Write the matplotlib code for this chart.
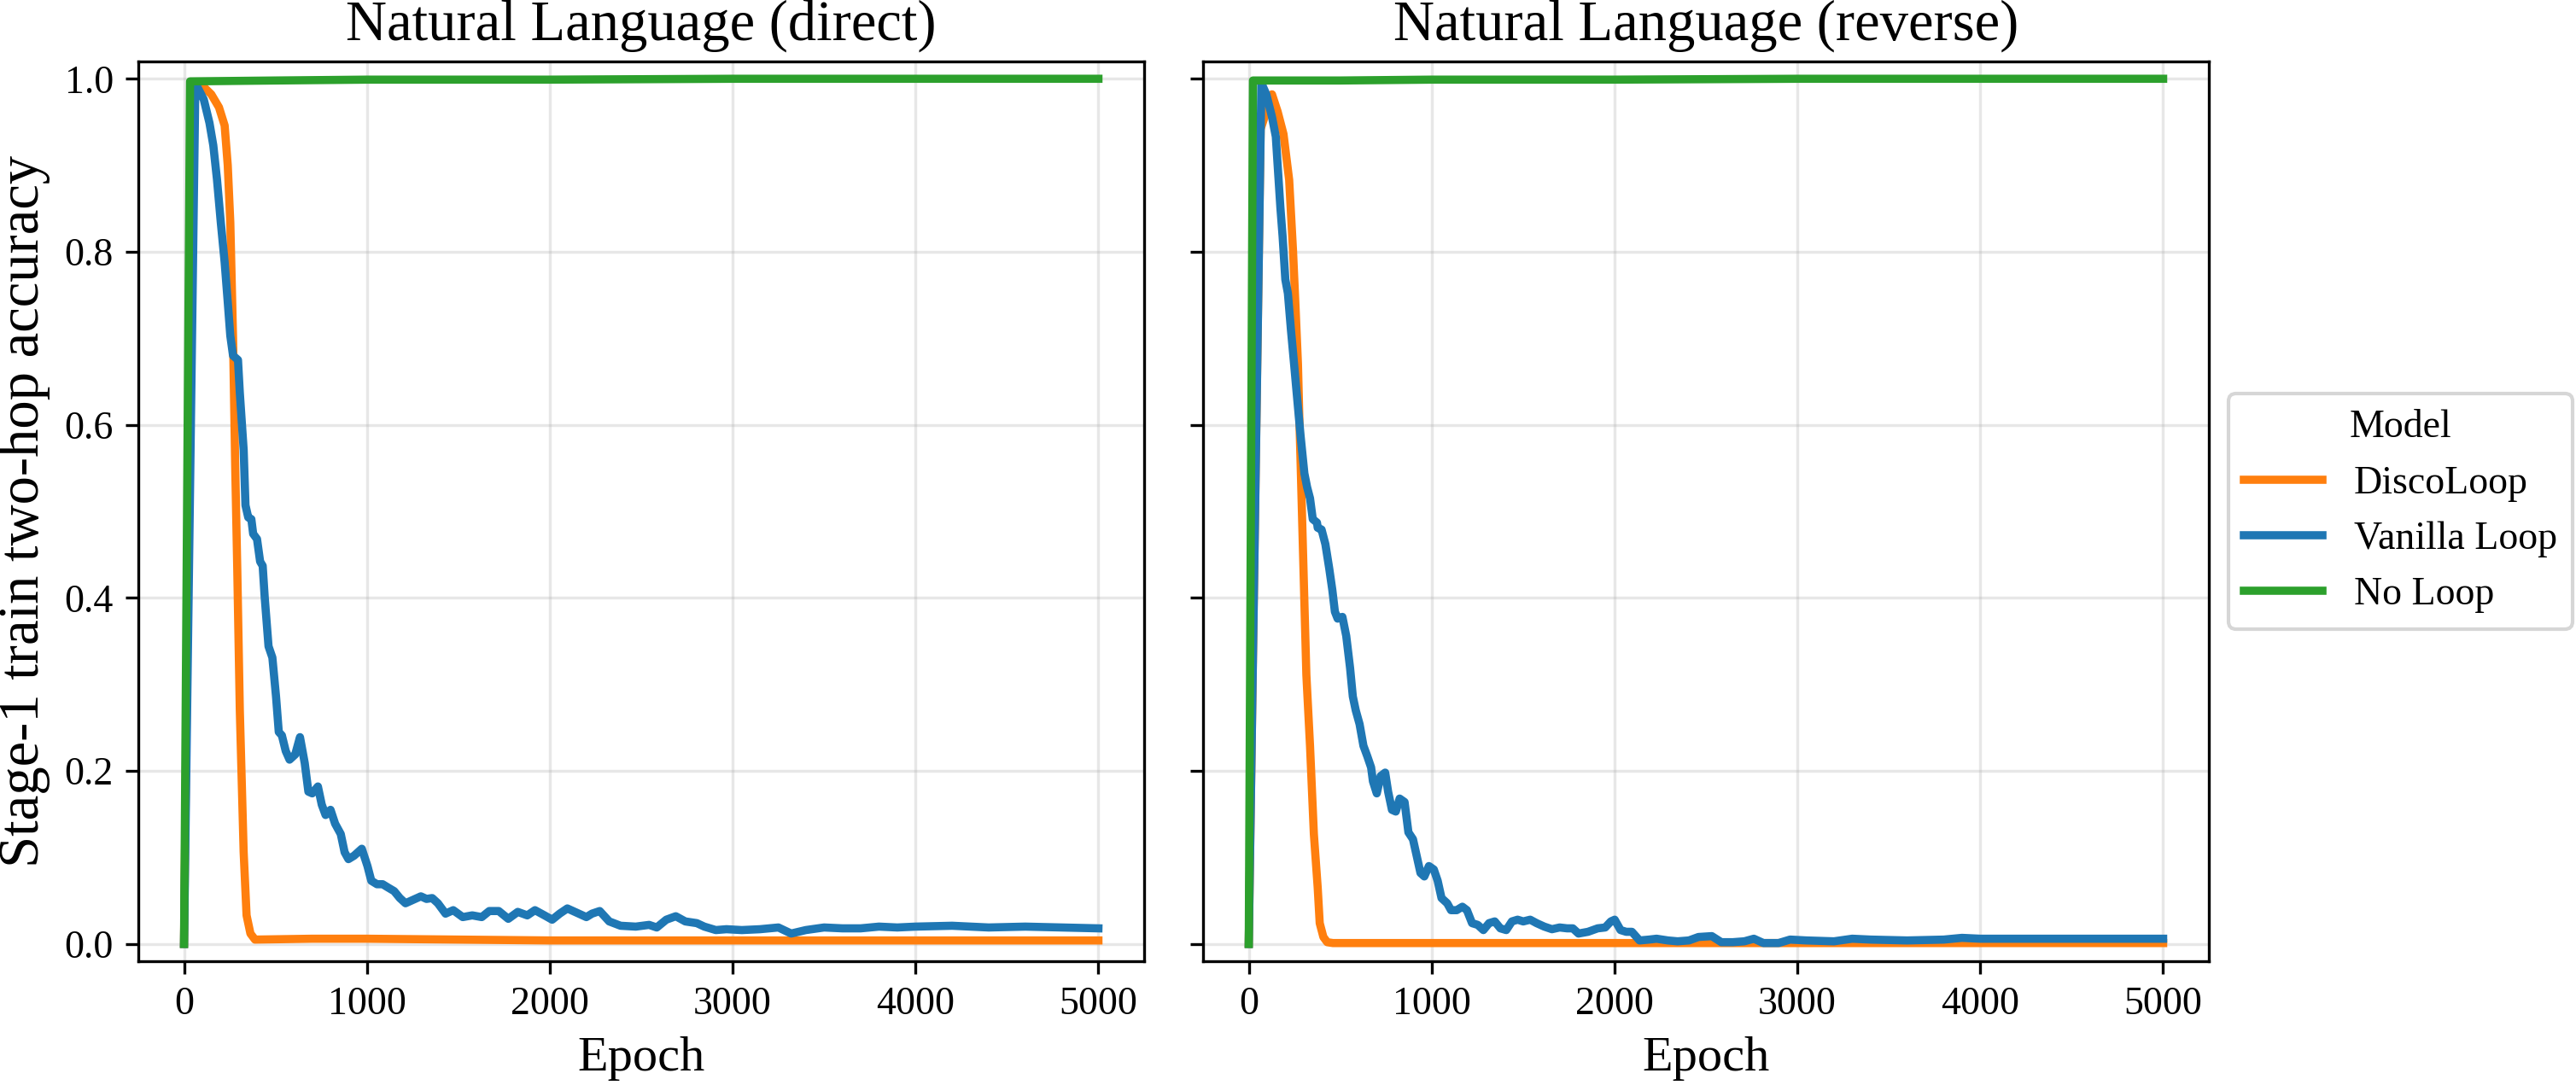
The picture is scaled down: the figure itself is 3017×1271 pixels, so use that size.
import matplotlib
matplotlib.use("Agg")
import matplotlib.pyplot as plt

plt.rcParams['font.family'] = ['Liberation Serif', 'DejaVu Serif']

# ---------------- data ----------------
models = ["DiscoLoop", "Vanilla Loop", "No Loop"]
colors = ["#ff7f0e", "#1f77b4", "#2ca02c"]
panel_titles = ["Natural Language (direct)", "Natural Language (reverse)"]

# Direct panel
direct_disco_epoch = [0, 50, 86, 149, 191, 222, 239, 253, 268, 280, 291, 305, 326, 342, 363, 388,
                      700, 1000, 1500, 2000, 2500, 3000, 3500, 4000, 4500, 5000]
direct_disco_acc = [0.0, 0.99, 0.995, 0.982, 0.967, 0.946, 0.90, 0.834, 0.70, 0.55, 0.434, 0.27, 0.106, 0.033, 0.012, 0.005,
                    0.006, 0.006, 0.005, 0.004, 0.004, 0.004, 0.004, 0.004, 0.004, 0.004]

direct_vanilla_epoch = [0, 62, 108, 139, 160, 180, 201, 222, 239, 253, 268, 295, 305, 326, 336, 351, 368, 378, 399,
                        416, 430, 441, 462, 483, 503, 518, 535, 556, 577, 608, 634, 660, 680, 701, 732, 753, 774,
                        801, 826, 857, 878, 899, 930, 972, 1003, 1024, 1055, 1086, 1117, 1149, 1180, 1211, 1253,
                        1295, 1326, 1357, 1388, 1430, 1472, 1524, 1576, 1628, 1669, 1721, 1773, 1825, 1877, 1919,
                        1971, 2013, 2054, 2096, 2148, 2200, 2231, 2273, 2325, 2387, 2470, 2543, 2585, 2637, 2689,
                        2741, 2804, 2845, 2908, 2966, 3050, 3150, 3250, 3320, 3400, 3500, 3600, 3700, 3800, 3900,
                        4000, 4200, 4400, 4600, 4800, 5000]
direct_vanilla_acc = [0.0, 0.995, 0.976, 0.949, 0.923, 0.884, 0.834, 0.788, 0.742, 0.703, 0.680, 0.675, 0.637, 0.571,
                      0.507, 0.493, 0.491, 0.474, 0.468, 0.442, 0.437, 0.401, 0.344, 0.331, 0.286, 0.245, 0.241,
                      0.223, 0.213, 0.219, 0.239, 0.209, 0.176, 0.174, 0.182, 0.161, 0.149, 0.155, 0.139, 0.127,
                      0.106, 0.098, 0.102, 0.110, 0.090, 0.073, 0.069, 0.069, 0.065, 0.061, 0.053, 0.047, 0.051,
                      0.055, 0.052, 0.053, 0.047, 0.035, 0.039, 0.031, 0.033, 0.031, 0.038, 0.038, 0.029, 0.037,
                      0.033, 0.039, 0.033, 0.028, 0.035, 0.041, 0.036, 0.031, 0.035, 0.038, 0.026, 0.021, 0.020,
                      0.022, 0.019, 0.028, 0.032, 0.026, 0.024, 0.020, 0.016, 0.017, 0.016, 0.017, 0.019, 0.012,
                      0.016, 0.019, 0.018, 0.018, 0.020, 0.019, 0.020, 0.021, 0.019, 0.020, 0.019, 0.018]

direct_noloop_epoch = [0, 33, 500, 1000, 2000, 3000, 4000, 5000]
direct_noloop_acc = [0.0, 0.997, 0.998, 0.999, 0.999, 1.0, 1.0, 1.0]

# Reverse panel
reverse_disco_epoch = [0, 65, 127, 158, 190, 221, 242, 256, 269, 277, 283, 294, 315, 335, 356, 377, 388, 408,
                       429, 460, 1000, 2000, 3000, 4000, 5000]
reverse_disco_acc = [0.0, 0.942, 0.982, 0.962, 0.936, 0.883, 0.801, 0.735, 0.670, 0.604, 0.560, 0.474, 0.311,
                     0.229, 0.127, 0.065, 0.024, 0.008, 0.002, 0.001, 0.001, 0.001, 0.001, 0.001, 0.001]

reverse_vanilla_epoch = [0, 69, 96, 127, 148, 158, 173, 185, 200, 214, 231, 248, 262, 283, 304, 319, 335, 350, 373,
                         377, 398, 419, 440, 457, 471, 486, 512, 533, 554, 569, 585, 606, 627, 648, 669, 679, 700,
                         721, 746, 762, 783, 804, 825, 852, 873, 898, 918, 939, 960, 985, 1012, 1033, 1054, 1085,
                         1106, 1137, 1168, 1193, 1221, 1252, 1283, 1314, 1345, 1376, 1408, 1439, 1470, 1501, 1539,
                         1574, 1616, 1658, 1700, 1741, 1772, 1803, 1855, 1908, 1949, 1980, 2001, 2033, 2064, 2095,
                         2137, 2189, 2230, 2292, 2345, 2407, 2459, 2532, 2584, 2647, 2710, 2762, 2814, 2897, 2960,
                         3050, 3200, 3300, 3400, 3600, 3800, 3900, 4000, 4500, 5000]
reverse_vanilla_acc = [0.0, 0.995, 0.982, 0.956, 0.933, 0.900, 0.851, 0.818, 0.768, 0.752, 0.709, 0.670, 0.637,
                       0.588, 0.544, 0.528, 0.515, 0.491, 0.487, 0.481, 0.479, 0.462, 0.434, 0.409, 0.384, 0.376,
                       0.378, 0.356, 0.319, 0.286, 0.270, 0.254, 0.229, 0.217, 0.204, 0.188, 0.174, 0.194, 0.198,
                       0.176, 0.155, 0.153, 0.168, 0.164, 0.129, 0.121, 0.102, 0.082, 0.078, 0.090, 0.086, 0.073,
                       0.053, 0.047, 0.039, 0.039, 0.043, 0.039, 0.024, 0.022, 0.016, 0.024, 0.026, 0.018, 0.016,
                       0.026, 0.028, 0.026, 0.028, 0.024, 0.020, 0.017, 0.019, 0.018, 0.018, 0.012, 0.014, 0.018,
                       0.019, 0.026, 0.028, 0.016, 0.014, 0.014, 0.004, 0.005, 0.006, 0.004, 0.003, 0.004, 0.008,
                       0.009, 0.002, 0.002, 0.003, 0.006, 0.001, 0.001, 0.005, 0.004, 0.003, 0.006, 0.005, 0.004,
                       0.005, 0.007, 0.006, 0.006, 0.006]

reverse_noloop_epoch = [0, 23, 500, 1000, 2000, 3000, 4000, 5000]
reverse_noloop_acc = [0.0, 0.998, 0.998, 0.999, 0.999, 1.0, 1.0, 1.0]

xticks = [0, 1000, 2000, 3000, 4000, 5000]
yticks = [0.0, 0.2, 0.4, 0.6, 0.8, 1.0]

panels = [
    [(direct_disco_epoch, direct_disco_acc), (direct_vanilla_epoch, direct_vanilla_acc),
     (direct_noloop_epoch, direct_noloop_acc)],
    [(reverse_disco_epoch, reverse_disco_acc), (reverse_vanilla_epoch, reverse_vanilla_acc),
     (reverse_noloop_epoch, reverse_noloop_acc)],
]

# ---------------- figure ----------------
W, H = 3017, 1271
fig = plt.figure(figsize=(W / 300, H / 300), dpi=300)
ax1 = fig.add_axes([162 / W, (H - 1126) / H, 1178 / W, 1054 / H])
ax2 = fig.add_axes([1409 / W, (H - 1126) / H, 1178 / W, 1054 / H], sharey=ax1)

for ax, series, title in zip([ax1, ax2], panels, panel_titles):
    for (ep, acc), name, c in zip(series, models, colors):
        ax.plot(ep, acc, color=c, lw=2.3, label=name)
    ax.set_title(title, fontsize=16)
    ax.set_xlabel("Epoch", fontsize=14)
    ax.set_xticks(xticks)
    ax.set_yticks(yticks)
    ax.tick_params(labelsize=11)
    ax.grid(True, alpha=0.3)
    ax.set_xlim(-250, 5250)
ax1.set_ylim(-0.02, 1.02)
ax1.set_ylabel("Stage-1 train two-hop accuracy", fontsize=16)
ax2.tick_params(labelleft=False)

leg = ax2.legend(title="Model", loc="center left", bbox_to_anchor=(1.0, 0.5),
                 fontsize=11, title_fontsize=11)

fig.savefig("out.png", dpi=300)
